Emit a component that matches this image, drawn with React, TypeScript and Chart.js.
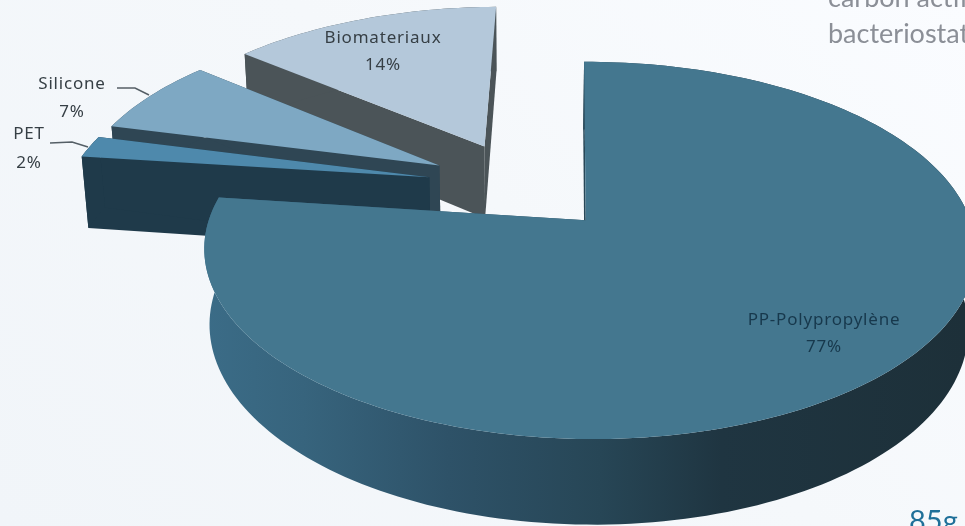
import React, { useEffect, useRef } from "react";
import { Chart, registerables } from "chart.js";

Chart.register(...registerables);

const categories = ["PP-Polypropylène", "PET", "Silicone", "Biomateriaux"];
const shares = [77, 2, 7, 14];
const topColors = ["#44778f", "#4e89ac", "#7ea8c3", "#b4c8da"];
const wallColors = ["#1f3743", "#1f3a4a", "#2f4654", "#4b5458"];
const drawOrder = [3, 2, 1, 0];

// Perspective camera for the flat pie plane.
const CAM = { xc: 522, yc: 185.5, b: 368, a: 172.5, d: 75, k: 0.155, m: -0.01, q: 0.016, s: 8, explode: 0.26 };

const project = (u: number, v: number, z: number) => {
  const den = 1 + CAM.k * v + CAM.m * u + CAM.q * z;
  return {
    x: CAM.xc + (CAM.b * u + CAM.s * v) / den,
    y: CAM.yc + (-CAM.a * v + CAM.d * z) / den,
  };
};

const labelPlaces = [
  { x: 824, y: 320, y2: 347 },
  { x: 29, y: 134, y2: 163 },
  { x: 72, y: 84, y2: 112 },
  { x: 383, y: 38, y2: 65 },
];
const leaders = [
  null,
  [[50, 143], [72, 142], [88, 147]],
  [[117, 88], [135, 88], [149, 95]],
  null,
];

const pie3d = {
  id: "pie3d",
  beforeDatasetsDraw(chart: any) {
    const ctx: any = chart.ctx;
    const arcs = chart.getDatasetMeta(0).data;
    drawOrder.forEach((i) => {
      const { startAngle, endAngle } = arcs[i];
      const mid = (startAngle + endAngle) / 2;
      const ou = CAM.explode * Math.cos(mid);
      const ov = -CAM.explode * Math.sin(mid);
      const pt = (t: number, r: number, z: number) =>
        project(ou + r * Math.cos(t), ov - r * Math.sin(t), z);
      const n = Math.max(8, Math.ceil((endAngle - startAngle) * 40));
      const angles: number[] = [];
      for (let j = 0; j <= n; j++) angles.push(startAngle + ((endAngle - startAngle) * j) / n);

      let wall: any = wallColors[i];
      if (i === 0) {
        const g = ctx.createLinearGradient(205, 0, 965, 0);
        g.addColorStop(0, "#3b6c87");
        g.addColorStop(0.13, "#37647d");
        g.addColorStop(0.32, "#2e5268");
        g.addColorStop(0.52, "#274656");
        g.addColorStop(0.68, "#1f3541");
        g.addColorStop(1, "#1d3039");
        wall = g;
      }
      ctx.fillStyle = wall;
      // radial walls
      [startAngle, endAngle].forEach((t) => {
        const a = pt(t, 0, 0), b = pt(t, 1, 0), c = pt(t, 1, 1), d = pt(t, 0, 1);
        ctx.beginPath();
        ctx.moveTo(a.x, a.y);
        ctx.lineTo(b.x, b.y);
        ctx.lineTo(c.x, c.y);
        ctx.lineTo(d.x, d.y);
        ctx.closePath();
        ctx.fill();
      });
      // outer wall
      ctx.beginPath();
      angles.forEach((t, j) => {
        const p = pt(t, 1, 0);
        if (j === 0) ctx.moveTo(p.x, p.y);
        else ctx.lineTo(p.x, p.y);
      });
      [...angles].reverse().forEach((t) => {
        const p = pt(t, 1, 1);
        ctx.lineTo(p.x, p.y);
      });
      ctx.closePath();
      ctx.fill();
      // top face
      ctx.fillStyle = topColors[i];
      ctx.beginPath();
      const o = pt(startAngle, 0, 0);
      ctx.moveTo(o.x, o.y);
      angles.forEach((t) => {
        const p = pt(t, 1, 0);
        ctx.lineTo(p.x, p.y);
      });
      ctx.closePath();
      ctx.fill();
    });

    // data labels
    ctx.textAlign = "center";
    ctx.textBaseline = "middle";
    ctx.font = '17px "Noto Sans"';
    ctx.letterSpacing = "0.8px";
    categories.forEach((name, i) => {
      const at = labelPlaces[i];
      ctx.fillStyle = i === 0 ? "#17384c" : "#363f45";
      ctx.fillText(name, at.x, at.y);
      ctx.fillText(shares[i] + "%", at.x, at.y2);
      const line = leaders[i];
      if (line) {
        ctx.strokeStyle = "#555f66";
        ctx.lineWidth = 1.5;
        ctx.beginPath();
        line.forEach(([x, y], j) => (j ? ctx.lineTo(x, y) : ctx.moveTo(x, y)));
        ctx.stroke();
      }
    });
    ctx.letterSpacing = "0px";
    return false;
  },
};

export default function App() {
  const ref = useRef<HTMLCanvasElement>(null);
  useEffect(() => {
    const chart = new Chart(ref.current!, {
      type: "pie",
      data: {
        labels: categories,
        datasets: [{ data: shares, backgroundColor: topColors, offset: 40, borderWidth: 0 }],
      },
      options: {
        animation: false,
        responsive: false,
        devicePixelRatio: 1,
        rotation: 0,
        plugins: { legend: { display: false }, tooltip: { enabled: false } },
      },
      plugins: [pie3d],
    } as any);
    return () => chart.destroy();
  }, []);
  const snippet: React.CSSProperties = { position: "absolute", whiteSpace: "nowrap", fontFamily: "Lato, 'Open Sans', sans-serif", lineHeight: 1 };
  return (
    <div style={{ position: "fixed", left: 0, top: 0, width: 965, height: 526, overflow: "hidden", background: "linear-gradient(45deg, #f1f5f9 0%, #f5f8fb 55%, #fafcff 100%)" }}>
      <canvas ref={ref} width={965} height={526} style={{ position: "absolute", left: 0, top: 0 }} />
      <div style={{ ...snippet, left: 828, top: -17, fontSize: 27, color: "#8b8f97" }}>carbon actif</div>
      <div style={{ ...snippet, left: 828, top: 19, fontSize: 27, color: "#8b8f97" }}>bacteriostatique</div>
      <div style={{ ...snippet, left: 909, top: 505, fontSize: 29, color: "#1f7099" }}>85g</div>
    </div>
  );
}
